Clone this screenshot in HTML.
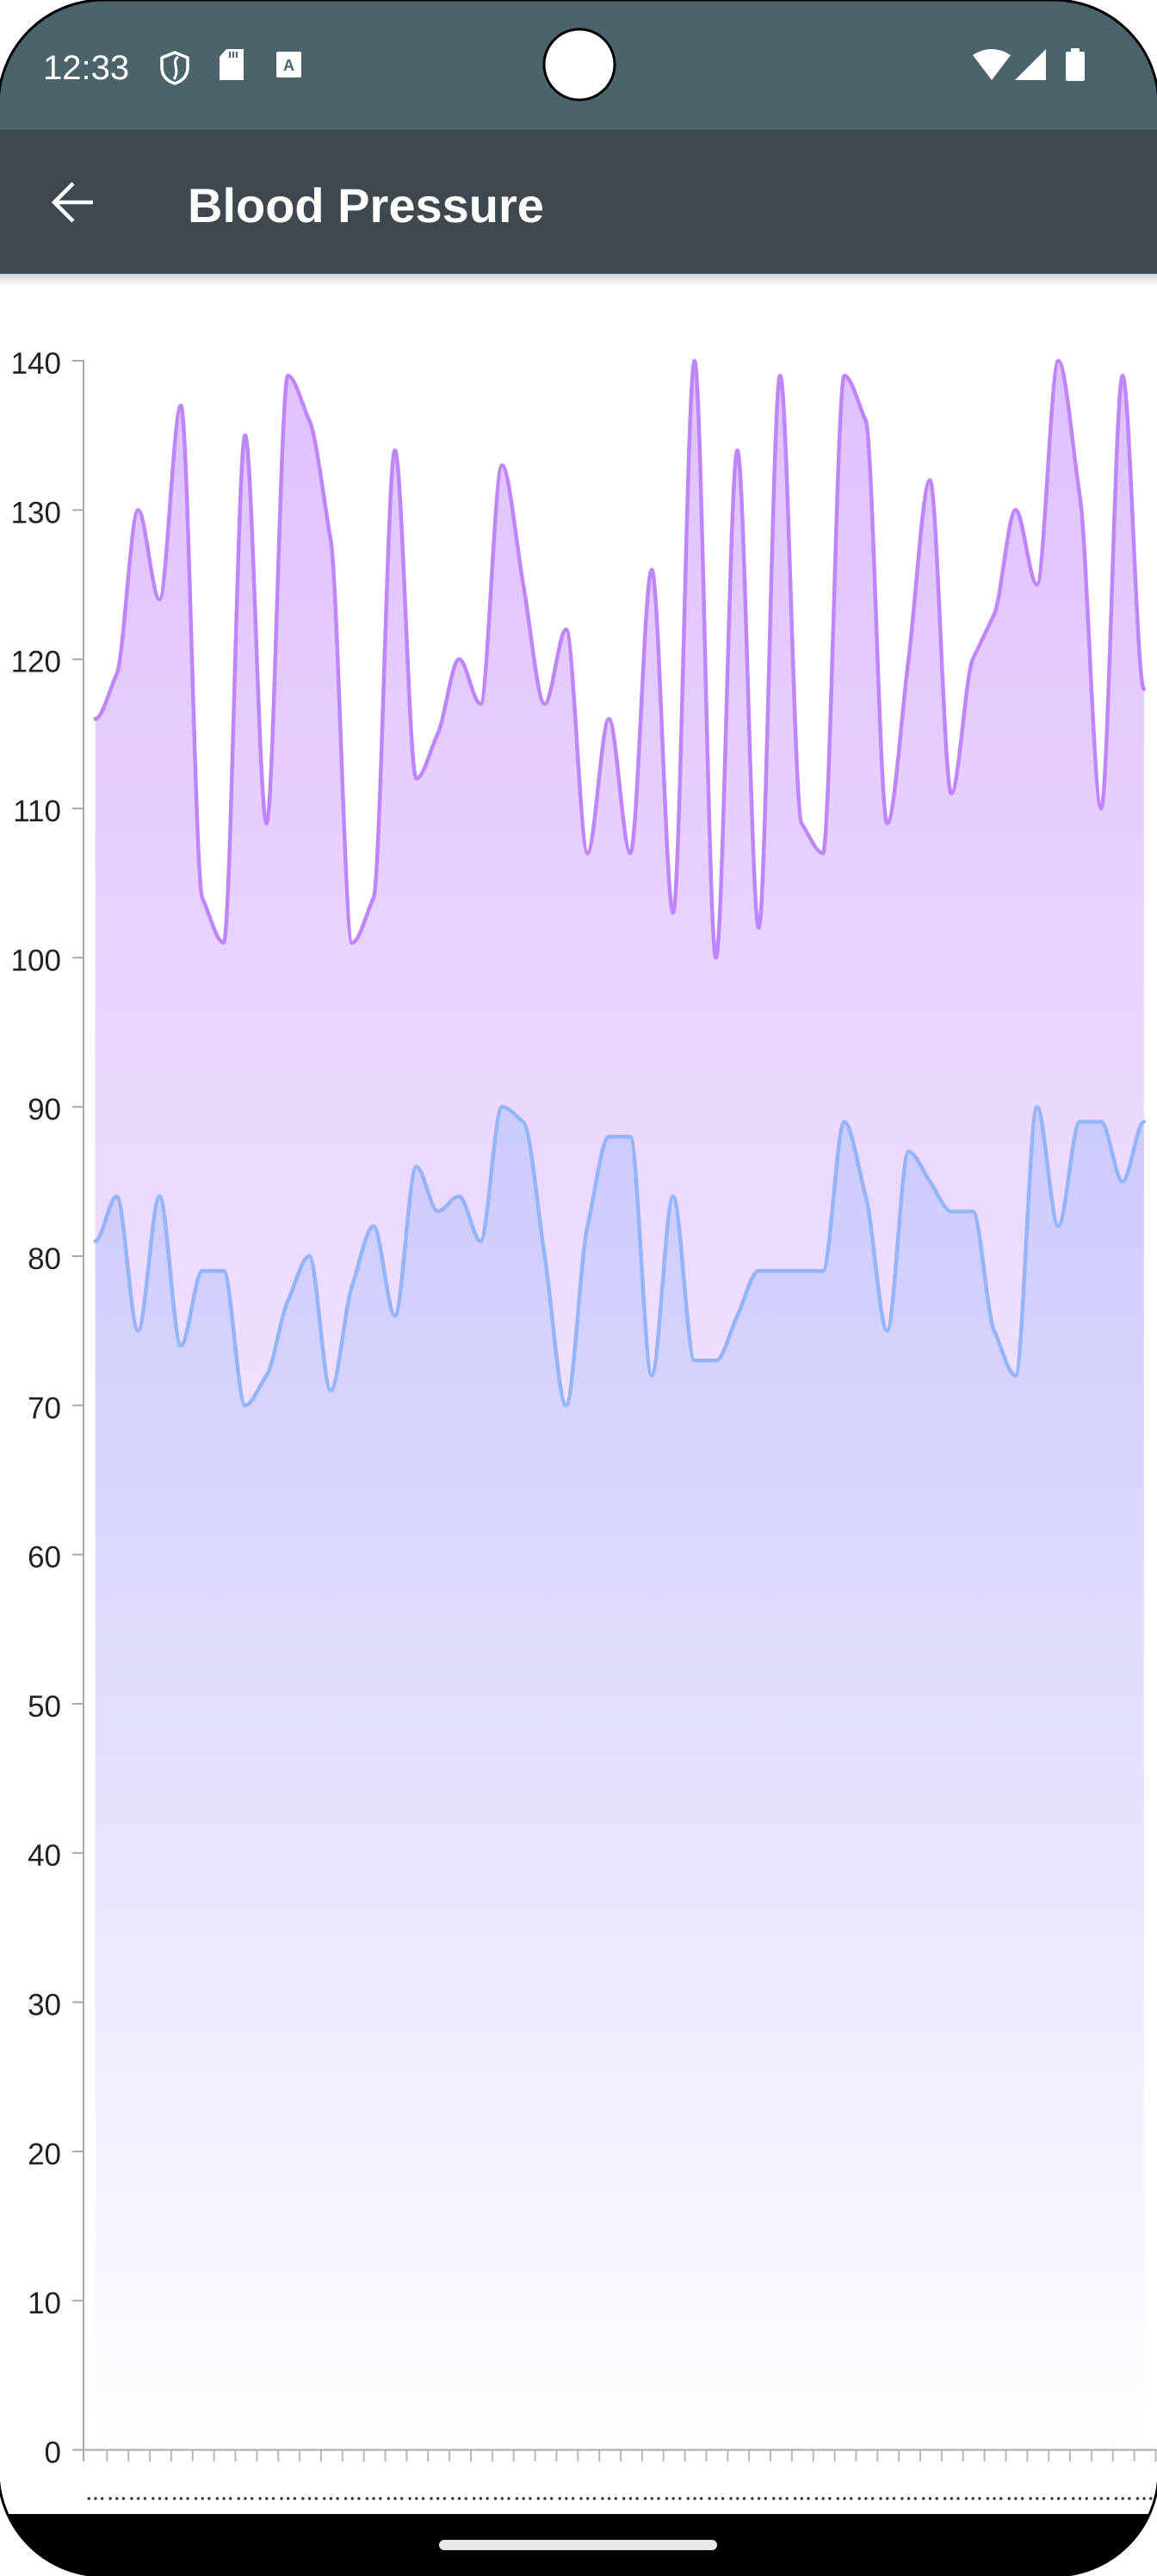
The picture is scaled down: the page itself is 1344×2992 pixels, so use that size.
<!DOCTYPE html>
<html>
<head>
<meta charset="utf-8">
<style>
  html, body { margin: 0; padding: 0; background: #ffffff; }
  body { width: 1344px; height: 2992px; overflow: hidden; }
  svg { display: block; }
  text { font-family: "Liberation Sans", sans-serif; }
</style>
</head>
<body>
<svg width="1344" height="2992" viewBox="0 0 1344 2992" xmlns="http://www.w3.org/2000/svg">
  <defs>
    <clipPath id="screen">
      <rect x="-2" y="0" width="1348" height="2992" rx="122" ry="122"/>
    </clipPath>
    <linearGradient id="gSys" gradientUnits="userSpaceOnUse" x1="0" y1="140" x2="0" y2="0">
      <stop offset="0" stop-color="#c084fc" stop-opacity="0.5"/>
      <stop offset="1" stop-color="#c084fc" stop-opacity="0"/>
    </linearGradient>
    <linearGradient id="gDia" gradientUnits="userSpaceOnUse" x1="0" y1="90" x2="0" y2="0">
      <stop offset="0" stop-color="#94b4fb" stop-opacity="0.36"/>
      <stop offset="1" stop-color="#94b4fb" stop-opacity="0"/>
    </linearGradient>
    <linearGradient id="shadow" x1="0" y1="0" x2="0" y2="1">
      <stop offset="0" stop-color="#000" stop-opacity="0.18"/>
      <stop offset="1" stop-color="#000" stop-opacity="0"/>
    </linearGradient>
    <pattern id="xticks" patternUnits="userSpaceOnUse" x="98.5" y="2846" width="24.86" height="13">
      <rect x="0" y="0" width="2" height="13" fill="#b8b8b8"/>
    </pattern>
    <pattern id="xdots" patternUnits="userSpaceOnUse" x="98.5" y="2898" width="24.86" height="8">
      <circle cx="4.73" cy="4" r="1.7" fill="#333"/>
      <circle cx="12.43" cy="4" r="1.7" fill="#333"/>
      <circle cx="20.13" cy="4" r="1.7" fill="#333"/>
    </pattern>
  </defs>

  <rect x="0" y="0" width="1344" height="2992" fill="#ffffff"/>

  <g clip-path="url(#screen)">
    <rect x="0" y="0" width="1344" height="2992" fill="#ffffff"/>
    <rect x="0" y="0" width="1344" height="151" fill="#4b636a"/>
    <rect x="0" y="151" width="1344" height="167" fill="#3f474f"/>
    <rect x="0" y="318" width="1344" height="14" fill="url(#shadow)"/>
    <rect x="0" y="2920" width="1344" height="72" fill="#000000"/>
  </g>

  <rect x="-2" y="0" width="1348" height="2992" rx="122" ry="122" fill="none" stroke="#000" stroke-width="3"/>

  <!-- status bar content -->
  <text x="50" y="92" font-size="40" fill="#ffffff">12:33</text>
  <path d="M203,61 L218,67 V78 C218,88 212,94 203,97 C194,94 188,88 188,78 V67 Z" fill="none" stroke="#fff" stroke-width="3.5" stroke-linejoin="round"/>
  <path d="M207,66 C198,72 210,80 202,92" fill="none" stroke="#fff" stroke-width="3"/>
  <path d="M263,57 H283 V93 H255 V66 Z" fill="#fff"/>
  <rect x="266" y="60" width="2" height="7" fill="#4b636a"/>
  <rect x="270" y="60" width="2" height="7" fill="#4b636a"/>
  <rect x="274" y="60" width="2" height="7" fill="#4b636a"/>
  <rect x="321" y="60" width="29" height="30" rx="2" fill="#fff"/>
  <text x="335.5" y="82" font-size="18" font-weight="bold" fill="#4b636a" text-anchor="middle">A</text>
  <circle cx="673" cy="75" r="41" fill="#ffffff" stroke="#000" stroke-width="3"/>
  <path d="M1130,64 Q1152,50 1174,64 L1152,93 Z" fill="#fff"/>
  <path d="M1215,57 L1215,93 L1179,93 Z" fill="#fff"/>
  <rect x="1244" y="56" width="10" height="5" fill="#fff"/>
  <rect x="1238" y="60" width="22" height="34" rx="2" fill="#fff"/>

  <!-- app bar content -->
  <path d="M108,235 H63 M85,213 L63,235 L85,257" fill="none" stroke="#fff" stroke-width="4.5" stroke-linecap="butt" stroke-linejoin="miter"/>
  <text x="218" y="258" font-size="56" font-weight="bold" fill="#ffffff">Blood Pressure</text>

  <!-- chart data -->
  <g transform="matrix(8.2867 0 0 -17.332 110.7 2845.5)">
    <path fill="url(#gSys)" d="M0,116 C1,116 2,118 3,119 C4,120 5,130 6,130 C7,130 8,124 9,124 C10,124 11,137 12,137 C13,137 14,105 15,104 C16,103 17,101 18,101 C19,101 20,135 21,135 C22,135 23,109 24,109 C25,109 26,139 27,139 C28,139 29,137 30,136 C31,135 32,130.667 33,128 C34,125.333 35,101 36,101 C37,101 38,103 39,104 C40,105 41,134 42,134 C43,134 44,112 45,112 C46,112 47,114 48,115 C49,116 50,120 51,120 C52,120 53,117 54,117 C55,117 56,133 57,133 C58,133 59,127.667 60,125 C61,122.333 62,117 63,117 C64,117 65,122 66,122 C67,122 68,107 69,107 C70,107 71,116 72,116 C73,116 74,107 75,107 C76,107 77,126 78,126 C79,126 80,103 81,103 C82,103 83,140 84,140 C85,140 86,100 87,100 C88,100 89,134 90,134 C91,134 92,102 93,102 C94,102 95,139 96,139 C97,139 98,109.667 99,109 C100,108.333 101,107 102,107 C103,107 104,139 105,139 C106,139 107,137 108,136 C109,135 110,109 111,109 C112,109 113,116.333 114,120 C115,123.667 116,132 117,132 C118,132 119,111 120,111 C121,111 122,119 123,120 C124,121 125,122 126,123 C127,124 128,130 129,130 C130,130 131,125 132,125 C133,125 134,140 135,140 C136,140 137,134 138,131 C139,128 140,110 141,110 C142,110 143,139 144,139 C145,139 146,118 147,118 L147,0.4 L0,0.4 Z"/>
    <path fill="none" stroke="#bd86fd" stroke-width="4.5" vector-effect="non-scaling-stroke" stroke-linejoin="round" stroke-linecap="round" d="M0,116 C1,116 2,118 3,119 C4,120 5,130 6,130 C7,130 8,124 9,124 C10,124 11,137 12,137 C13,137 14,105 15,104 C16,103 17,101 18,101 C19,101 20,135 21,135 C22,135 23,109 24,109 C25,109 26,139 27,139 C28,139 29,137 30,136 C31,135 32,130.667 33,128 C34,125.333 35,101 36,101 C37,101 38,103 39,104 C40,105 41,134 42,134 C43,134 44,112 45,112 C46,112 47,114 48,115 C49,116 50,120 51,120 C52,120 53,117 54,117 C55,117 56,133 57,133 C58,133 59,127.667 60,125 C61,122.333 62,117 63,117 C64,117 65,122 66,122 C67,122 68,107 69,107 C70,107 71,116 72,116 C73,116 74,107 75,107 C76,107 77,126 78,126 C79,126 80,103 81,103 C82,103 83,140 84,140 C85,140 86,100 87,100 C88,100 89,134 90,134 C91,134 92,102 93,102 C94,102 95,139 96,139 C97,139 98,109.667 99,109 C100,108.333 101,107 102,107 C103,107 104,139 105,139 C106,139 107,137 108,136 C109,135 110,109 111,109 C112,109 113,116.333 114,120 C115,123.667 116,132 117,132 C118,132 119,111 120,111 C121,111 122,119 123,120 C124,121 125,122 126,123 C127,124 128,130 129,130 C130,130 131,125 132,125 C133,125 134,140 135,140 C136,140 137,134 138,131 C139,128 140,110 141,110 C142,110 143,139 144,139 C145,139 146,118 147,118"/>
    <path fill="url(#gDia)" d="M0,81 C1,81 2,84 3,84 C4,84 5,75 6,75 C7,75 8,84 9,84 C10,84 11,74 12,74 C13,74 14,79 15,79 C16,79 17,79 18,79 C19,79 20,70 21,70 C22,70 23,71.333 24,72 C25,72.667 26,76 27,77 C28,78 29,80 30,80 C31,80 32,71 33,71 C34,71 35,76.667 36,78 C37,79.333 38,82 39,82 C40,82 41,76 42,76 C43,76 44,86 45,86 C46,86 47,83 48,83 C49,83 50,84 51,84 C52,84 53,81 54,81 C55,81 56,90 57,90 C58,90 59,89.333 60,89 C61,88.667 62,83 63,80 C64,77 65,70 66,70 C67,70 68,80 69,82 C70,84 71,88 72,88 C73,88 74,88 75,88 C76,88 77,72 78,72 C79,72 80,84 81,84 C82,84 83,73 84,73 C85,73 86,73 87,73 C88,73 89,75 90,76 C91,77 92,79 93,79 C94,79 95,79 96,79 C97,79 98,79 99,79 C100,79 101,79 102,79 C103,79 104,89 105,89 C106,89 107,85.667 108,84 C109,82.333 110,75 111,75 C112,75 113,87 114,87 C115,87 116,85.667 117,85 C118,84.333 119,83 120,83 C121,83 122,83 123,83 C124,83 125,76 126,75 C127,74 128,72 129,72 C130,72 131,90 132,90 C133,90 134,82 135,82 C136,82 137,89 138,89 C139,89 140,89 141,89 C142,89 143,85 144,85 C145,85 146,89 147,89 L147,0.4 L0,0.4 Z"/>
    <path fill="none" stroke="#94b4fb" stroke-width="4.5" vector-effect="non-scaling-stroke" stroke-linejoin="round" stroke-linecap="round" d="M0,81 C1,81 2,84 3,84 C4,84 5,75 6,75 C7,75 8,84 9,84 C10,84 11,74 12,74 C13,74 14,79 15,79 C16,79 17,79 18,79 C19,79 20,70 21,70 C22,70 23,71.333 24,72 C25,72.667 26,76 27,77 C28,78 29,80 30,80 C31,80 32,71 33,71 C34,71 35,76.667 36,78 C37,79.333 38,82 39,82 C40,82 41,76 42,76 C43,76 44,86 45,86 C46,86 47,83 48,83 C49,83 50,84 51,84 C52,84 53,81 54,81 C55,81 56,90 57,90 C58,90 59,89.333 60,89 C61,88.667 62,83 63,80 C64,77 65,70 66,70 C67,70 68,80 69,82 C70,84 71,88 72,88 C73,88 74,88 75,88 C76,88 77,72 78,72 C79,72 80,84 81,84 C82,84 83,73 84,73 C85,73 86,73 87,73 C88,73 89,75 90,76 C91,77 92,79 93,79 C94,79 95,79 96,79 C97,79 98,79 99,79 C100,79 101,79 102,79 C103,79 104,89 105,89 C106,89 107,85.667 108,84 C109,82.333 110,75 111,75 C112,75 113,87 114,87 C115,87 116,85.667 117,85 C118,84.333 119,83 120,83 C121,83 122,83 123,83 C124,83 125,76 126,75 C127,74 128,72 129,72 C130,72 131,90 132,90 C133,90 134,82 135,82 C136,82 137,89 138,89 C139,89 140,89 141,89 C142,89 143,85 144,85 C145,85 146,89 147,89"/>
  </g>

  <!-- axes -->
  <rect x="96" y="418" width="2" height="2429" fill="#a9a9a9"/>
  <rect x="84" y="2844.5" width="1260" height="2" fill="#a9a9a9"/>
  <rect x="96" y="2846" width="2" height="13" fill="#a9a9a9"/>
  <rect x="110" y="2846" width="1234" height="13" fill="url(#xticks)"/>
  <rect x="98" y="2898" width="1244" height="8" fill="url(#xdots)"/>

  <!-- y ticks -->
  <g fill="#a9a9a9">
    <rect x="84" y="418" width="13" height="2"/>
    <rect x="84" y="591.4" width="13" height="2"/>
    <rect x="84" y="764.7" width="13" height="2"/>
    <rect x="84" y="938" width="13" height="2"/>
    <rect x="84" y="1111.3" width="13" height="2"/>
    <rect x="84" y="1284.6" width="13" height="2"/>
    <rect x="84" y="1458" width="13" height="2"/>
    <rect x="84" y="1631.3" width="13" height="2"/>
    <rect x="84" y="1804.6" width="13" height="2"/>
    <rect x="84" y="1977.9" width="13" height="2"/>
    <rect x="84" y="2151.2" width="13" height="2"/>
    <rect x="84" y="2324.5" width="13" height="2"/>
    <rect x="84" y="2497.9" width="13" height="2"/>
    <rect x="84" y="2671.2" width="13" height="2"/>
  </g>

  <!-- y labels -->
  <g font-size="35" fill="#222222" text-anchor="end">
    <text x="71" y="434">140</text>
    <text x="71" y="607.4">130</text>
    <text x="71" y="780.7">120</text>
    <text x="71" y="954">110</text>
    <text x="71" y="1127.3">100</text>
    <text x="71" y="1300.6">90</text>
    <text x="71" y="1474">80</text>
    <text x="71" y="1647.3">70</text>
    <text x="71" y="1820.6">60</text>
    <text x="71" y="1993.9">50</text>
    <text x="71" y="2167.2">40</text>
    <text x="71" y="2340.5">30</text>
    <text x="71" y="2513.9">20</text>
    <text x="71" y="2687.2">10</text>
    <text x="71" y="2860.5">0</text>
  </g>

  <rect x="510" y="2950" width="323" height="12" rx="6" fill="#e8e8e8"/>
</svg>
</body>
</html>
